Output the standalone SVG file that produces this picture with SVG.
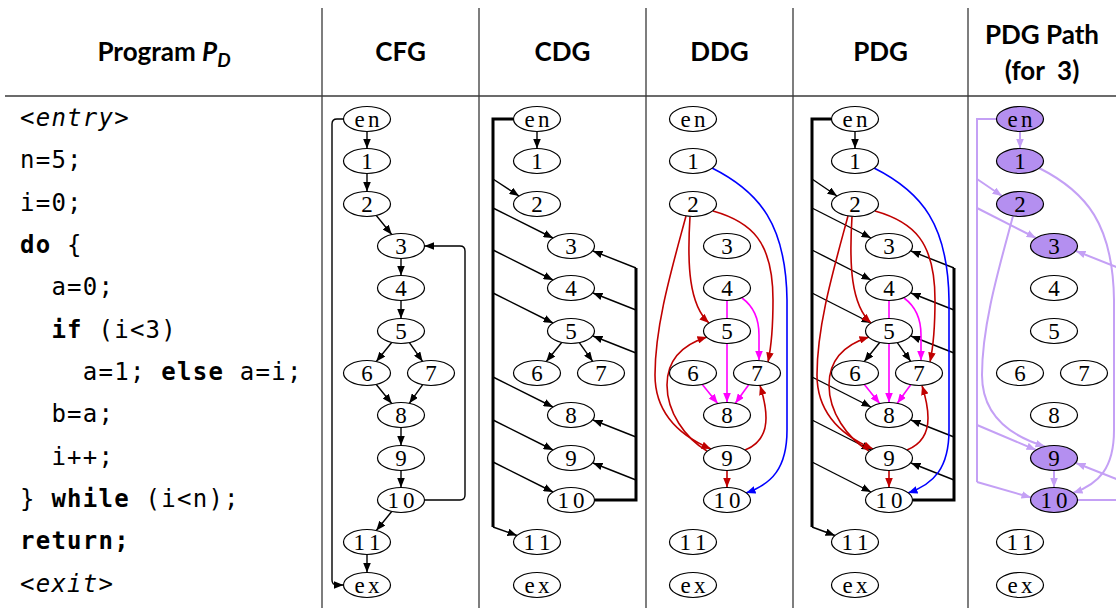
<svg xmlns="http://www.w3.org/2000/svg" width="1116" height="608" viewBox="0 0 1116 608">
<style>
.sep{stroke:#3a3a3a;stroke-width:1.3;fill:none}
.hd{font-family:Lato,"Liberation Sans",sans-serif;font-weight:bold;font-size:26px;text-anchor:middle;fill:#000}
.code{font-family:"DejaVu Sans Mono","Liberation Mono",monospace;font-size:24px;letter-spacing:1.25px;fill:#000}
.kw{font-weight:bold}
.it{font-style:italic}
.n ellipse{fill:#fff;stroke:#000;stroke-width:1.2}
.hl ellipse{fill:#b48ff0}
.n text{font-family:"Liberation Serif",serif;font-size:23px;text-anchor:middle;fill:#000}
.e{fill:none;stroke:#000;stroke-width:1.4;marker-end:url(#ab)}
.t{fill:none;stroke:#000;stroke-width:3}
.r{fill:none;stroke:#c00000;stroke-width:1.6;marker-end:url(#ar)}
.b{fill:none;stroke:#0000ff;stroke-width:1.6;marker-end:url(#abl)}
.m{fill:none;stroke:#ff00ff;stroke-width:1.6;marker-end:url(#am)}
.p{fill:none;stroke:#c4a0f5;stroke-width:2;marker-end:url(#ap)}
.pl{fill:none;stroke:#c4a0f5;stroke-width:2}
</style>
<defs>
<marker id="ab" viewBox="0 0 10 8" refX="10" refY="4" markerWidth="9.5" markerHeight="7.6" orient="auto" markerUnits="userSpaceOnUse"><path d="M0,0 L10,4 L0,8 z" fill="#000"/></marker>
<marker id="ar" viewBox="0 0 10 8" refX="10" refY="4" markerWidth="9.5" markerHeight="7.6" orient="auto" markerUnits="userSpaceOnUse"><path d="M0,0 L10,4 L0,8 z" fill="#c00000"/></marker>
<marker id="abl" viewBox="0 0 10 8" refX="10" refY="4" markerWidth="9.5" markerHeight="7.6" orient="auto" markerUnits="userSpaceOnUse"><path d="M0,0 L10,4 L0,8 z" fill="#0000ff"/></marker>
<marker id="am" viewBox="0 0 10 8" refX="10" refY="4" markerWidth="9.5" markerHeight="7.6" orient="auto" markerUnits="userSpaceOnUse"><path d="M0,0 L10,4 L0,8 z" fill="#ff00ff"/></marker>
<marker id="ap" viewBox="0 0 10 8" refX="10" refY="4" markerWidth="9.5" markerHeight="7.6" orient="auto" markerUnits="userSpaceOnUse"><path d="M0,0 L10,4 L0,8 z" fill="#c4a0f5"/></marker>
</defs>
<rect width="1116" height="608" fill="#fff"/>

<g id="grid">
<path class="sep" d="M5,96 H1116"/>
<path class="sep" d="M322,8 V608 M479,8 V608 M646,8 V608 M793,8 V608 M968,8 V608"/>
</g>

<g id="headers">
<text class="hd" x="164" y="61">Program <tspan class="it">P</tspan><tspan class="it" font-size="19" dy="6">D</tspan></text>
<text class="hd" x="400.5" y="61">CFG</text>
<text class="hd" x="562.5" y="61">CDG</text>
<text class="hd" x="719.5" y="61">DDG</text>
<text class="hd" x="880.5" y="61">PDG</text>
<text class="hd" x="1042" y="44">PDG Path</text>
<text class="hd" x="1042" y="80" xml:space="preserve">(for  3)</text>
</g>

<g id="program">
<text class="code it" x="20" y="126">&lt;entry&gt;</text>
<text class="code" x="20" y="168">n=5;</text>
<text class="code" x="20" y="211">i=0;</text>
<text class="code" x="20" y="253"><tspan class="kw">do</tspan> {</text>
<text class="code" x="51.4" y="295">a=0;</text>
<text class="code" x="51.4" y="338"><tspan class="kw">if</tspan> (i&lt;3)</text>
<text class="code" x="82.8" y="380">a=1; <tspan class="kw">else</tspan> a=i;</text>
<text class="code" x="51.4" y="422">b=a;</text>
<text class="code" x="51.4" y="465">i++;</text>
<text class="code" x="20" y="507">} <tspan class="kw">while</tspan> (i&lt;n);</text>
<text class="code kw" x="20" y="549">return;</text>
<text class="code it" x="20" y="592">&lt;exit&gt;</text>
</g>

<!-- ================= CFG ================= -->
<g id="cfg-edges">
<path class="e" d="M367,131.5 V148.5"/>
<path class="e" d="M367,173.5 V191.5"/>
<path class="e" d="M376.3,215.5 L391.7,234.5"/>
<path class="e" d="M401,258.5 V275.5"/>
<path class="e" d="M401,300.5 V318.5"/>
<path class="e" d="M391.7,342.5 L376.3,361.5"/>
<path class="e" d="M409.4,342.6 L422.6,361.4"/>
<path class="e" d="M376.3,384.5 L391.7,403.5"/>
<path class="e" d="M422.7,384.7 L409.3,403.3"/>
<path class="e" d="M401,427.5 V445.5"/>
<path class="e" d="M401,470.5 V487.5"/>
<path class="e" d="M391.7,511.5 L376.3,530.5"/>
<path class="e" d="M367,554.5 V572.5"/>
<path class="e" stroke-width="1.6" d="M424.5,500 H460 Q465,500 465,495 V251 Q465,246 460,246 H424.5"/>
<path class="e" stroke-width="1.6" d="M343.5,119 H337 Q332,119 332,124 V580 Q332,585 337,585 H343.5"/>
</g>
<g id="cfg-nodes">
<g id="cfg-en" class="n"><ellipse cx="367" cy="119" rx="23.5" ry="12.5"/><text x="367" y="126.5" textLength="25" lengthAdjust="spacing">en</text></g>
<g id="cfg-1" class="n"><ellipse cx="367" cy="161" rx="23.5" ry="12.5"/><text x="367" y="168.5">1</text></g>
<g id="cfg-2" class="n"><ellipse cx="367" cy="204" rx="23.5" ry="12.5"/><text x="367" y="211.5">2</text></g>
<g id="cfg-3" class="n"><ellipse cx="401" cy="246" rx="23.5" ry="12.5"/><text x="401" y="253.5">3</text></g>
<g id="cfg-4" class="n"><ellipse cx="401" cy="288" rx="23.5" ry="12.5"/><text x="401" y="295.5">4</text></g>
<g id="cfg-5" class="n"><ellipse cx="401" cy="331" rx="23.5" ry="12.5"/><text x="401" y="338.5">5</text></g>
<g id="cfg-6" class="n"><ellipse cx="367" cy="373" rx="23.5" ry="12.5"/><text x="367" y="380.5">6</text></g>
<g id="cfg-7" class="n"><ellipse cx="431" cy="373" rx="23.5" ry="12.5"/><text x="431" y="380.5">7</text></g>
<g id="cfg-8" class="n"><ellipse cx="401" cy="415" rx="23.5" ry="12.5"/><text x="401" y="422.5">8</text></g>
<g id="cfg-9" class="n"><ellipse cx="401" cy="458" rx="23.5" ry="12.5"/><text x="401" y="465.5">9</text></g>
<g id="cfg-10" class="n"><ellipse cx="401" cy="500" rx="23.5" ry="12.5"/><text x="401" y="507.5" textLength="27" lengthAdjust="spacing">10</text></g>
<g id="cfg-11" class="n"><ellipse cx="367" cy="542" rx="23.5" ry="12.5"/><text x="367" y="549.5" textLength="27" lengthAdjust="spacing">11</text></g>
<g id="cfg-ex" class="n"><ellipse cx="367" cy="585" rx="23.5" ry="12.5"/><text x="367" y="592.5" textLength="25" lengthAdjust="spacing">ex</text></g>
</g>

<!-- ================= CDG ================= -->
<g id="cdg-edges">
<path class="e" d="M537,131.5 V148.5"/>
<path class="t" d="M513.5,119 H493 V527"/>
<path class="e" d="M493,179 L519,196"/>
<path class="e" d="M493,208 L553,238"/>
<path class="e" d="M493,250 L553,280"/>
<path class="e" d="M493,293 L553,323"/>
<path class="e" d="M493,377 L553,407"/>
<path class="e" d="M493,420 L553,450"/>
<path class="e" d="M493,462 L553,492"/>
<path class="e" d="M493,527 L517,535.5"/>
<path class="t" stroke-width="2.6" d="M594.5,500 H636 V268"/>
<path class="e" d="M636,268 L593,251"/>
<path class="e" d="M636,310 L593,293"/>
<path class="e" d="M636,353 L593,336"/>
<path class="e" d="M636,437 L593,420"/>
<path class="e" d="M636,480 L593,463"/>
<path class="e" d="M561.7,342.5 L546.3,361.5"/>
<path class="e" d="M579.3,342.7 L592.7,361.3"/>
</g>
<g id="cdg-nodes">
<g id="cdg-en" class="n"><ellipse cx="537" cy="119" rx="23.5" ry="12.5"/><text x="537" y="126.5" textLength="25" lengthAdjust="spacing">en</text></g>
<g id="cdg-1" class="n"><ellipse cx="537" cy="161" rx="23.5" ry="12.5"/><text x="537" y="168.5">1</text></g>
<g id="cdg-2" class="n"><ellipse cx="537" cy="204" rx="23.5" ry="12.5"/><text x="537" y="211.5">2</text></g>
<g id="cdg-3" class="n"><ellipse cx="571" cy="246" rx="23.5" ry="12.5"/><text x="571" y="253.5">3</text></g>
<g id="cdg-4" class="n"><ellipse cx="571" cy="288" rx="23.5" ry="12.5"/><text x="571" y="295.5">4</text></g>
<g id="cdg-5" class="n"><ellipse cx="571" cy="331" rx="23.5" ry="12.5"/><text x="571" y="338.5">5</text></g>
<g id="cdg-6" class="n"><ellipse cx="537" cy="373" rx="23.5" ry="12.5"/><text x="537" y="380.5">6</text></g>
<g id="cdg-7" class="n"><ellipse cx="601" cy="373" rx="23.5" ry="12.5"/><text x="601" y="380.5">7</text></g>
<g id="cdg-8" class="n"><ellipse cx="571" cy="415" rx="23.5" ry="12.5"/><text x="571" y="422.5">8</text></g>
<g id="cdg-9" class="n"><ellipse cx="571" cy="458" rx="23.5" ry="12.5"/><text x="571" y="465.5">9</text></g>
<g id="cdg-10" class="n"><ellipse cx="571" cy="500" rx="23.5" ry="12.5"/><text x="571" y="507.5" textLength="27" lengthAdjust="spacing">10</text></g>
<g id="cdg-11" class="n"><ellipse cx="537" cy="542" rx="23.5" ry="12.5"/><text x="537" y="549.5" textLength="27" lengthAdjust="spacing">11</text></g>
<g id="cdg-ex" class="n"><ellipse cx="537" cy="585" rx="23.5" ry="12.5"/><text x="537" y="592.5" textLength="25" lengthAdjust="spacing">ex</text></g>
</g>

<!-- ================= DDG ================= -->
<g id="ddg-edges">
<path class="b" d="M712,168 C760,192 786,225 787,300 L787,430 C787,468 772,484 746,493"/>
<path class="r" d="M713,211 C752,222 773,242 773,300 C773,330 771,348 768,362"/>
<path class="r" d="M690,216.5 C687,265 689,305 709,323"/>
<path class="r" d="M686,216 C672,268 655,325 655,375 C655,420 690,440 711,449"/>
<path class="r" d="M707,451 C685,438 667,412 667,385 C667,355 688,343 707,337"/>
<path class="r" d="M745,450 C760,444 766,433 766,418 C766,405 763,395 760,385.5"/>
<path class="r" d="M727,470.5 V487.5"/>
<path class="m" d="M727,300.5 V402.5"/>
<path class="m" d="M742,298 C753,306 759,318 759,335 L759,360.5"/>
<path class="m" d="M702.3,384.5 L717.7,403.5"/>
<path class="m" d="M748.7,384.7 L735.3,403.3"/>
</g>
<g id="ddg-nodes">
<g id="ddg-en" class="n"><ellipse cx="693" cy="119" rx="23.5" ry="12.5"/><text x="693" y="126.5" textLength="25" lengthAdjust="spacing">en</text></g>
<g id="ddg-1" class="n"><ellipse cx="693" cy="161" rx="23.5" ry="12.5"/><text x="693" y="168.5">1</text></g>
<g id="ddg-2" class="n"><ellipse cx="693" cy="204" rx="23.5" ry="12.5"/><text x="693" y="211.5">2</text></g>
<g id="ddg-3" class="n"><ellipse cx="727" cy="246" rx="23.5" ry="12.5"/><text x="727" y="253.5">3</text></g>
<g id="ddg-4" class="n"><ellipse cx="727" cy="288" rx="23.5" ry="12.5"/><text x="727" y="295.5">4</text></g>
<g id="ddg-5" class="n"><ellipse cx="727" cy="331" rx="23.5" ry="12.5"/><text x="727" y="338.5">5</text></g>
<g id="ddg-6" class="n"><ellipse cx="693" cy="373" rx="23.5" ry="12.5"/><text x="693" y="380.5">6</text></g>
<g id="ddg-7" class="n"><ellipse cx="757" cy="373" rx="23.5" ry="12.5"/><text x="757" y="380.5">7</text></g>
<g id="ddg-8" class="n"><ellipse cx="727" cy="415" rx="23.5" ry="12.5"/><text x="727" y="422.5">8</text></g>
<g id="ddg-9" class="n"><ellipse cx="727" cy="458" rx="23.5" ry="12.5"/><text x="727" y="465.5">9</text></g>
<g id="ddg-10" class="n"><ellipse cx="727" cy="500" rx="23.5" ry="12.5"/><text x="727" y="507.5" textLength="27" lengthAdjust="spacing">10</text></g>
<g id="ddg-11" class="n"><ellipse cx="693" cy="542" rx="23.5" ry="12.5"/><text x="693" y="549.5" textLength="27" lengthAdjust="spacing">11</text></g>
<g id="ddg-ex" class="n"><ellipse cx="693" cy="585" rx="23.5" ry="12.5"/><text x="693" y="592.5" textLength="25" lengthAdjust="spacing">ex</text></g>
</g>

<!-- ================= PDG ================= -->
<g id="pdg-edges">
<path class="e" d="M855,131.5 V148.5"/>
<path class="t" d="M831.5,119 H812 V527"/>
<path class="e" d="M812,179 L837,196"/>
<path class="e" d="M812,208 L871,238"/>
<path class="e" d="M812,250 L871,280"/>
<path class="e" d="M812,293 L871,323"/>
<path class="e" d="M812,377 L871,407"/>
<path class="e" d="M812,420 L871,450"/>
<path class="e" d="M812,462 L871,492"/>
<path class="e" d="M812,527 L835,535.5"/>
<path class="t" stroke-width="2.6" d="M912.5,500 H954 V268"/>
<path class="e" d="M954,268 L911,251"/>
<path class="e" d="M954,310 L911,293"/>
<path class="e" d="M954,353 L911,336"/>
<path class="e" d="M954,437 L911,420"/>
<path class="e" d="M954,480 L911,463"/>
<path class="e" d="M879.7,342.5 L864.3,361.5"/>
<path class="e" d="M897.3,342.7 L910.7,361.3"/>
<path class="b" d="M874,168 C922,192 948,225 949,300 L949,430 C949,468 934,484 908,493"/>
<path class="r" d="M875,211 C914,222 935,242 935,300 C935,330 933,348 930,362"/>
<path class="r" d="M852,216.5 C849,265 851,305 871,323"/>
<path class="r" d="M848,216 C834,268 817,325 817,375 C817,420 852,440 873,449"/>
<path class="r" d="M869,451 C847,438 829,412 829,385 C829,355 850,343 869,337"/>
<path class="r" d="M907,450 C922,444 928,433 928,418 C928,405 925,395 922,385.5"/>
<path class="r" d="M889,470.5 V487.5"/>
<path class="m" d="M889,300.5 V402.5"/>
<path class="m" d="M904,298 C915,306 921,318 921,335 L921,360.5"/>
<path class="m" d="M864.3,384.5 L879.7,403.5"/>
<path class="m" d="M910.7,384.7 L897.3,403.3"/>
</g>
<g id="pdg-nodes">
<g id="pdg-en" class="n"><ellipse cx="855" cy="119" rx="23.5" ry="12.5"/><text x="855" y="126.5" textLength="25" lengthAdjust="spacing">en</text></g>
<g id="pdg-1" class="n"><ellipse cx="855" cy="161" rx="23.5" ry="12.5"/><text x="855" y="168.5">1</text></g>
<g id="pdg-2" class="n"><ellipse cx="855" cy="204" rx="23.5" ry="12.5"/><text x="855" y="211.5">2</text></g>
<g id="pdg-3" class="n"><ellipse cx="889" cy="246" rx="23.5" ry="12.5"/><text x="889" y="253.5">3</text></g>
<g id="pdg-4" class="n"><ellipse cx="889" cy="288" rx="23.5" ry="12.5"/><text x="889" y="295.5">4</text></g>
<g id="pdg-5" class="n"><ellipse cx="889" cy="331" rx="23.5" ry="12.5"/><text x="889" y="338.5">5</text></g>
<g id="pdg-6" class="n"><ellipse cx="855" cy="373" rx="23.5" ry="12.5"/><text x="855" y="380.5">6</text></g>
<g id="pdg-7" class="n"><ellipse cx="919" cy="373" rx="23.5" ry="12.5"/><text x="919" y="380.5">7</text></g>
<g id="pdg-8" class="n"><ellipse cx="889" cy="415" rx="23.5" ry="12.5"/><text x="889" y="422.5">8</text></g>
<g id="pdg-9" class="n"><ellipse cx="889" cy="458" rx="23.5" ry="12.5"/><text x="889" y="465.5">9</text></g>
<g id="pdg-10" class="n"><ellipse cx="889" cy="500" rx="23.5" ry="12.5"/><text x="889" y="507.5" textLength="27" lengthAdjust="spacing">10</text></g>
<g id="pdg-11" class="n"><ellipse cx="855" cy="542" rx="23.5" ry="12.5"/><text x="855" y="549.5" textLength="27" lengthAdjust="spacing">11</text></g>
<g id="pdg-ex" class="n"><ellipse cx="855" cy="585" rx="23.5" ry="12.5"/><text x="855" y="592.5" textLength="25" lengthAdjust="spacing">ex</text></g>
</g>

<!-- ================= PDG Path ================= -->
<g id="path-edges">
<path class="p" d="M1020,131.5 V148.5"/>
<path class="pl" d="M996.5,119 H977 V482"/>
<path class="p" d="M977,482 L1031,497.5"/>
<path class="p" d="M977,179 L1002,196"/>
<path class="p" d="M977,208 L1036,238"/>
<path class="p" d="M977,425 L1036,450"/>
<path class="p" d="M1039,168 C1087,192 1113,225 1114,300 L1114,430 C1114,468 1099,484 1073,493"/>
<path class="p" d="M1013,216 C999,268 982,325 982,375 C982,420 1017,438 1045,446.5"/>
<path class="p" d="M1054,470.5 V487.5"/>
<path class="pl" d="M1077.5,500 H1119 V268"/>
<path class="p" d="M1119,268 L1076,251"/>
<path class="p" d="M1119,480 L1076,463"/>
</g>
<g id="path-nodes">
<g id="path-en" class="n hl"><ellipse cx="1020" cy="119" rx="23.5" ry="12.5"/><text x="1020" y="126.5" textLength="25" lengthAdjust="spacing">en</text></g>
<g id="path-1" class="n hl"><ellipse cx="1020" cy="161" rx="23.5" ry="12.5"/><text x="1020" y="168.5">1</text></g>
<g id="path-2" class="n hl"><ellipse cx="1020" cy="204" rx="23.5" ry="12.5"/><text x="1020" y="211.5">2</text></g>
<g id="path-3" class="n hl"><ellipse cx="1054" cy="246" rx="23.5" ry="12.5" stroke-width="3"/><text x="1054" y="253.5">3</text></g>
<g id="path-4" class="n"><ellipse cx="1054" cy="288" rx="23.5" ry="12.5"/><text x="1054" y="295.5">4</text></g>
<g id="path-5" class="n"><ellipse cx="1054" cy="331" rx="23.5" ry="12.5"/><text x="1054" y="338.5">5</text></g>
<g id="path-6" class="n"><ellipse cx="1020" cy="373" rx="23.5" ry="12.5"/><text x="1020" y="380.5">6</text></g>
<g id="path-7" class="n"><ellipse cx="1084" cy="373" rx="23.5" ry="12.5"/><text x="1084" y="380.5">7</text></g>
<g id="path-8" class="n"><ellipse cx="1054" cy="415" rx="23.5" ry="12.5"/><text x="1054" y="422.5">8</text></g>
<g id="path-9" class="n hl"><ellipse cx="1054" cy="458" rx="23.5" ry="12.5"/><text x="1054" y="465.5">9</text></g>
<g id="path-10" class="n hl"><ellipse cx="1054" cy="500" rx="23.5" ry="12.5"/><text x="1054" y="507.5" textLength="27" lengthAdjust="spacing">10</text></g>
<g id="path-11" class="n"><ellipse cx="1020" cy="542" rx="23.5" ry="12.5"/><text x="1020" y="549.5" textLength="27" lengthAdjust="spacing">11</text></g>
<g id="path-ex" class="n"><ellipse cx="1020" cy="585" rx="23.5" ry="12.5"/><text x="1020" y="592.5" textLength="25" lengthAdjust="spacing">ex</text></g>
</g>
</svg>
